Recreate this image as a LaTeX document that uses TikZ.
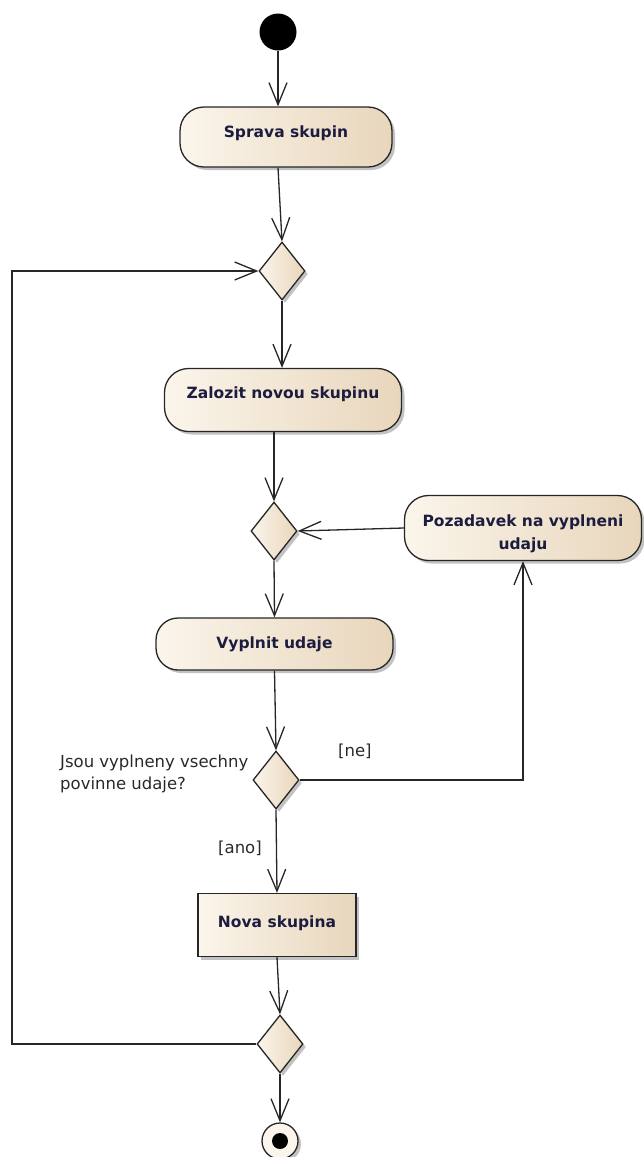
\documentclass[tikz,border=0pt]{standalone}
\usepackage{fontspec}
\setmainfont{DejaVu Sans}
\usetikzlibrary{shapes.geometric,shadows,arrows.meta,calc}
\definecolor{ink}{RGB}{28,28,62}
\definecolor{note}{RGB}{45,40,40}
\definecolor{fillL}{RGB}{251,245,235}
\definecolor{fillR}{RGB}{232,214,188}
\tikzset{
  shade/.style={drop shadow={shadow xshift=3pt,shadow yshift=-3pt,opacity=.4,fill=black!60}},
  body/.style={draw=black!85,line width=1.3pt,left color=fillL,right color=fillR,shade},
  label font/.style={text=ink,font=\bfseries\fontsize{15.5}{23}\selectfont},
  act/.style={body,rounded corners=24pt,inner sep=0pt,align=center,label font},
  obj/.style={body,inner sep=0pt,align=center,label font},
  choice/.style={body,diamond,inner sep=0pt,minimum width=46pt,minimum height=58pt},
  flow/.style={draw=black!85,line width=1.3pt,
    -{Straight Barb[length=22pt,width=18pt,line width=1.3pt]}},
  guard/.style={text=note,font=\fontsize{16.5}{22}\selectfont,inner sep=0pt}
}
\begin{document}
\begin{tikzpicture}[x=1pt,y=-1pt]
\useasboundingbox (0,0) rectangle (643,1157);

% start and end nodes
\node[circle,fill=black,minimum size=37pt,inner sep=0pt] (start) at (278,32) {};
\node[circle,draw=black!85,line width=1.3pt,fill=fillL,minimum size=36pt,inner sep=0pt,shade] (end) at (280,1141) {};
\node[circle,fill=black,minimum size=16pt,inner sep=0pt] (endDot) at (end.center) {};

% actions
\node[act,minimum width=212pt,minimum height=60pt,text depth=11pt] (sprava) at (286,137) {Sprava skupin};
\node[act,minimum width=237pt,minimum height=63pt,text depth=15pt] (zal) at (283,400) {Zalozit novou skupinu};
\node[act,minimum width=237pt,minimum height=65pt] (poz) at (523,528) {};
\node[label font,align=center,inner sep=0pt] (pozText) at ([yshift=-6pt]poz.center) {Pozadavek na vyplneni\\udaju};
\node[act,minimum width=237pt,minimum height=52pt,rounded corners=22pt] (vyp) at (274.5,644) {Vyplnit udaje};
\node[obj,minimum width=158pt,minimum height=63pt,text depth=7pt] (nova) at (277,925) {Nova skupina};

% decision / merge nodes
\node[choice] (d1) at (282,271) {};
\node[choice] (d2) at (274,531) {};
\node[choice] (d3) at (276,780) {};
\node[choice] (d4) at (280,1044) {};

% loop back corners
\coordinate (loopB) at (12,1044);
\coordinate (loopT) at (12,271);

% flows
\draw[flow] (start) -- (start |- sprava.north);
\draw[flow] (sprava.south -| start) -- (d1.north);
\draw[flow] (d1.south) -- (d1.south |- zal.north);
\draw[flow] (zal.south -| d2) -- (d2.north);
\draw[flow] (poz.west) -- (d2.east);
\draw[flow] (d2.south) -- (vyp.north);
\draw[flow] (vyp.south) -- (d3.north);
\draw[flow] (d3.east) -- (d3.east -| poz.south) -- (poz.south);
\draw[flow] (d3.south) -- (nova.north);
\draw[flow] (nova.south) -- (d4.north);
\draw[flow] (d4.south) -- (end.north);
\draw[flow] (d4.west) -- (loopB) -- (loopT) -- (d1.west);

% labels
\node[guard,anchor=west,align=left] (q) at (60,774) {Jsou vyplneny vsechny\\povinne udaje?};
\node[guard,anchor=west] (ne) at (338,751) {[ne]};
\node[guard,anchor=west] (ano) at (218,848) {[ano]};
\end{tikzpicture}
\end{document}
